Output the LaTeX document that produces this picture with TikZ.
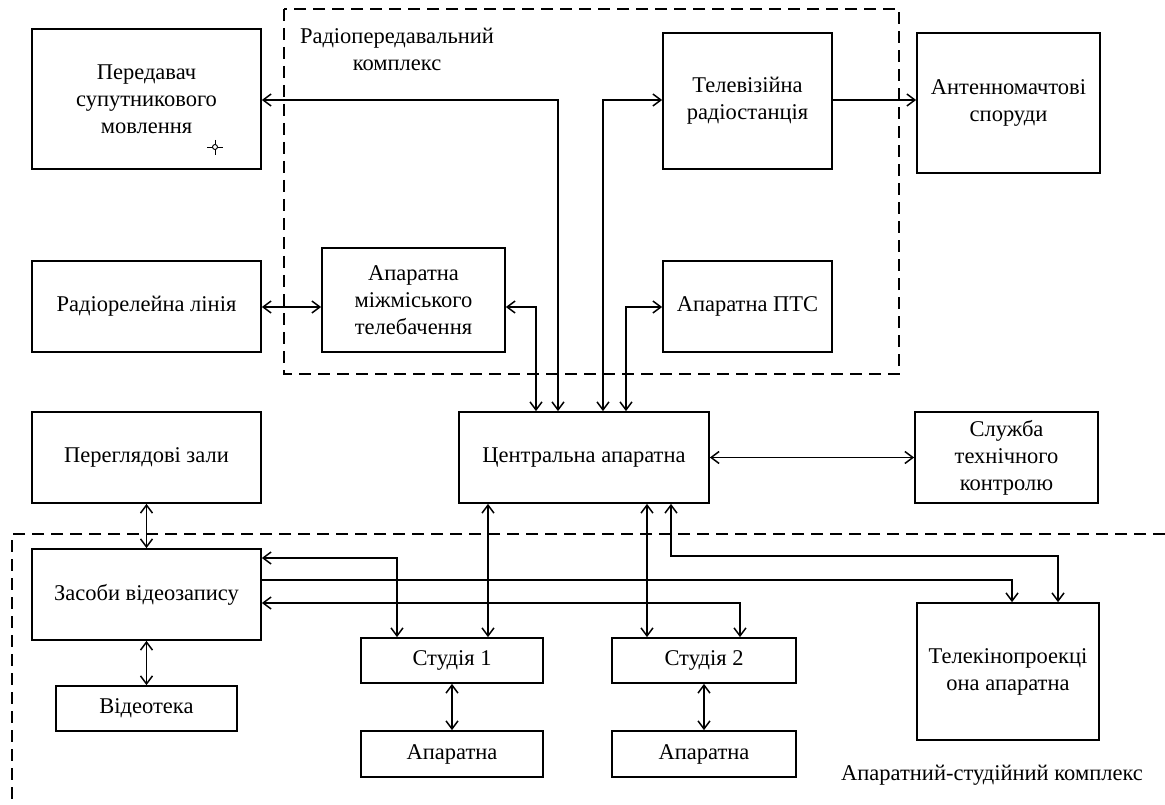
\documentclass[tikz,border=0pt]{standalone}
\usepackage{fontspec}
\setmainfont{Liberation Serif}
\usetikzlibrary{arrows.meta}

\begin{document}
\begin{tikzpicture}[x=1pt,y=-1pt,
  box/.style={draw, line width=1.7pt, align=center, inner sep=0pt,
    font=\fontsize{22.5}{27}\selectfont},
  link/.style={line width=1.5pt, {Straight Barb[length=8pt,width=12pt]}-{Straight Barb[length=8pt,width=12pt]}},
  linkto/.style={line width=1.5pt, -{Straight Barb[length=8pt,width=12pt]}},
  zone/.style={line width=1.5pt, dash pattern=on 12pt off 7pt},
  caption/.style={align=center, font=\fontsize{22.5}{27}\selectfont}]

\useasboundingbox (0,0) rectangle (1165,805);

% outlines of the two complexes
\draw[zone] (284,9) rectangle (899,374);
\draw[zone] (1165,534) -- (12,534) -- (12,805);
\node[caption] (radiolbl) at (397,49) {Радіопередавальний\\комплекс};
\node[caption] (studiolbl) at (992,775) {Апаратний-студійний комплекс};

% blocks
\node[box, minimum width=229pt, minimum height=140pt] (tx)  at (146.5,99)   {Передавач\\супутникового\\мовлення};
\node[box, minimum width=169pt, minimum height=136pt] (tv)  at (747.5,101)  {Телевізійна\\радіостанція};
\node[box, minimum width=183pt, minimum height=140pt] (ant) at (1008.5,103) {Антенномачтові\\споруди};
\node[box, minimum width=229pt, minimum height=91pt]  (rrl) at (146.5,306.5) {Радіорелейна лінія};
\node[box, minimum width=183pt, minimum height=104pt] (mmt) at (413.5,300)  {Апаратна\\міжміського\\телебачення};
\node[box, minimum width=169pt, minimum height=91pt]  (pts) at (747.5,306.5) {Апаратна ПТС};
\node[box, minimum width=250pt, minimum height=91pt]  (cen) at (584,457.5)  {Центральна апаратна};
\node[box, minimum width=183pt, minimum height=91pt]  (stk) at (1006.5,457.5) {Служба\\технічного\\контролю};
\node[box, minimum width=229pt, minimum height=91pt]  (prz) at (146.5,457.5) {Переглядові зали};
\node[box, minimum width=229pt, minimum height=91pt]  (zvz) at (146.5,594.5) {Засоби відеозапису};
\node[box, minimum width=181pt, minimum height=45pt]  (vtk) at (146.5,708.5) {Відеотека};
\node[box, minimum width=182pt, minimum height=45pt]  (st1) at (452,660.5)  {Студія 1};
\node[box, minimum width=184pt, minimum height=45pt]  (st2) at (704,660.5)  {Студія 2};
\node[box, minimum width=182pt, minimum height=46pt]  (ap1) at (452,754)    {Апаратна};
\node[box, minimum width=184pt, minimum height=46pt]  (ap2) at (704,754)    {Апаратна};
\node[box, minimum width=182pt, minimum height=137pt] (tkp) at (1008,671.5) {Телекінопроекці\\она апаратна};

% small anchor mark inside the transmitter block
\draw[line width=0.9pt] (207,147) -- (223,147) (215,140) -- (215,155);
\draw[line width=0.9pt, fill=white] (215,147) circle (2.5pt);

% columns and rows used by the routed connectors
\coordinate (x397) at (397,0);
\coordinate (x488) at (488,0);
\coordinate (x536) at (536,0);
\coordinate (x558) at (558,0);
\coordinate (x603) at (603,0);
\coordinate (x626) at (626,0);
\coordinate (x647) at (647,0);
\coordinate (x671) at (671,0);
\coordinate (x740) at (740,0);
\coordinate (x1012) at (1012,0);
\coordinate (x1058) at (1058,0);
\coordinate (y100) at (0,100);
\coordinate (y307) at (0,307);
\coordinate (y556) at (0,556);
\coordinate (y558) at (0,558);
\coordinate (y580) at (0,580);
\coordinate (y603) at (0,603);

% radio transmitting complex
\draw[link] (cen.north -| x558) -- (x558 |- y100) -- (tx.east |- y100);
\draw[link] (cen.north -| x603) -- (x603 |- y100) -- (tv.west |- y100);
\draw[linkto] (tv.east |- y100) -- (ant.west |- y100);
\draw[link] (rrl.east |- y307) -- (mmt.west |- y307);
\draw[link] (mmt.east |- y307) -| (cen.north -| x536);
\draw[link] (pts.west |- y307) -| (cen.north -| x626);
\draw[link] (cen.east) -- (stk.west);

% studio complex
\draw[link] (prz.south) -- (zvz.north);
\draw[link] (zvz.south) -- (vtk.north);
\draw[link] (zvz.east |- y558) -| (st1.north -| x397);
\draw[linkto] (zvz.east |- y580) -| (tkp.north -| x1012);
\draw[link] (zvz.east |- y603) -| (st2.north -| x740);
\draw[link] (cen.south -| x488) -- (st1.north -| x488);
\draw[link] (cen.south -| x647) -- (st2.north -| x647);
\draw[link] (cen.south -| x671) -- (x671 |- y556) -- (x1058 |- y556) -- (tkp.north -| x1058);
\draw[link] (st1.south) -- (ap1.north);
\draw[link] (st2.south) -- (ap2.north);

\end{tikzpicture}
\end{document}
